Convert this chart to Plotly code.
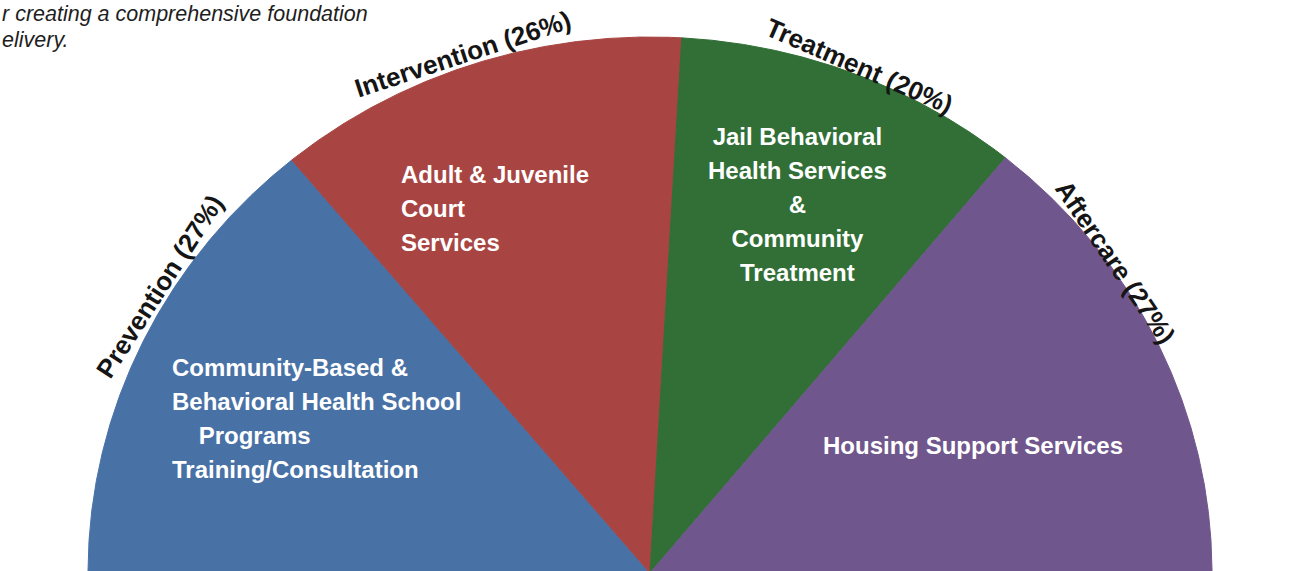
import numpy as np
import plotly.graph_objects as go

# ---------------- data ----------------
phases = ["Prevention", "Intervention", "Treatment", "Aftercare"]
phase_percent = [27, 26, 20, 27]
# share of the half-disc each wedge occupies, as drawn in the picture
slice_share = [28.0, 23.8, 20.0, 28.2]
slice_colors = ["#4871A6", "#A84542", "#316F36", "#6F578D"]
services = [
    ["Community-Based &amp;", "Behavioral Health School", "&nbsp;&nbsp;&nbsp;&nbsp;Programs", "Training/Consultation"],
    ["Adult &amp; Juvenile", "Court", "Services"],
    ["Jail Behavioral", "Health Services", "&amp;", "Community", "Treatment"],
    ["Housing Support Services"],
]
header_lines = ["r creating a comprehensive foundation", "elivery."]

# ---------------- layout / geometry (pixels) ----------------
W, H = 1299, 571
CX, CY = 650, 573      # centre of the half disc
RX, RY = 562, 536      # horizontal / vertical radius

service_pos = [(170, 418, "left", "left"), (399, 208, "left", "left"),
               (797, 204, "center", "center"), (973, 445, "center", "center")]
arc_label_t = [148.5, 109, 68.5, 35]     # parameter angle (deg) of the curved labels
arc_offset = [13, 13, 9, 6]
arc_tilt = [0, 0, 3, 2]                  # small extra turn to follow the curved text

fig = go.Figure()

total = sum(slice_share)
start = 180.0
for name, share, col in zip(phases, slice_share, slice_colors):
    span = 180.0 * share / total
    t = np.radians(np.linspace(start, start - span, 240))
    xs = np.concatenate([[CX], CX + RX * np.cos(t), [CX]])
    ys = np.concatenate([[CY], CY - RY * np.sin(t), [CY]])
    fig.add_trace(go.Scatter(x=xs, y=ys, mode="lines", fill="toself",
                             fillcolor=col, line=dict(color=col, width=1),
                             name=name, hoverinfo="name", showlegend=False))
    start -= span

annotations = []
# curved phase labels (placed tangent to the rim)
for name, pct, tdeg, off, tilt in zip(phases, phase_percent, arc_label_t, arc_offset, arc_tilt):
    t = np.radians(tdeg)
    px, py = CX + RX * np.cos(t), CY - RY * np.sin(t)
    nx, ny = np.cos(t) / RX, -np.sin(t) / RY
    nn = np.hypot(nx, ny)
    nx, ny = nx / nn, ny / nn
    ang = np.degrees(np.arctan2(RY * np.cos(t), RX * np.sin(t))) + tilt
    annotations.append(dict(
        x=px + off * nx, y=py + off * ny, xref="x", yref="y",
        text=f"{name} ({pct}%)", showarrow=False, textangle=ang,
        xanchor="center", yanchor="middle",
        font=dict(family="Liberation Sans, Arial, sans-serif", size=26,
                  color="#151515", weight="bold")))

# service texts inside wedges
for lines, (x, y, xa, al) in zip(services, service_pos):
    txt = "<br>".join(f'<span style="font-size:24px">{l}</span>' for l in lines)
    annotations.append(dict(
        x=x, y=y, xref="x", yref="y", text=txt, showarrow=False,
        xanchor=xa, yanchor="middle", align=al,
        font=dict(family="Liberation Sans, Arial, sans-serif", size=26.15,
                  color="white", weight="bold")))

# italic text at top left (kept just inside the canvas)
for txt, yc in zip(header_lines, [0, 26]):
    annotations.append(dict(
        x=0, y=yc, xref="x", yref="y", text=txt, showarrow=False,
        xanchor="left", yanchor="top", align="left",
        font=dict(family="Liberation Sans, Arial, sans-serif", size=21.5,
                  color="#1e1e1e", style="italic")))

fig.update_layout(
    width=W, height=H, margin=dict(l=0, r=0, t=0, b=0),
    paper_bgcolor="white", plot_bgcolor="white",
    xaxis=dict(range=[0, W], visible=False, fixedrange=True),
    yaxis=dict(range=[H, 0], visible=False, fixedrange=True),
    annotations=annotations, showlegend=False,
)

fig.write_html("out.html", config={"displayModeBar": False},
               post_script="document.body.style.margin='0';document.body.style.overflow='hidden';")
